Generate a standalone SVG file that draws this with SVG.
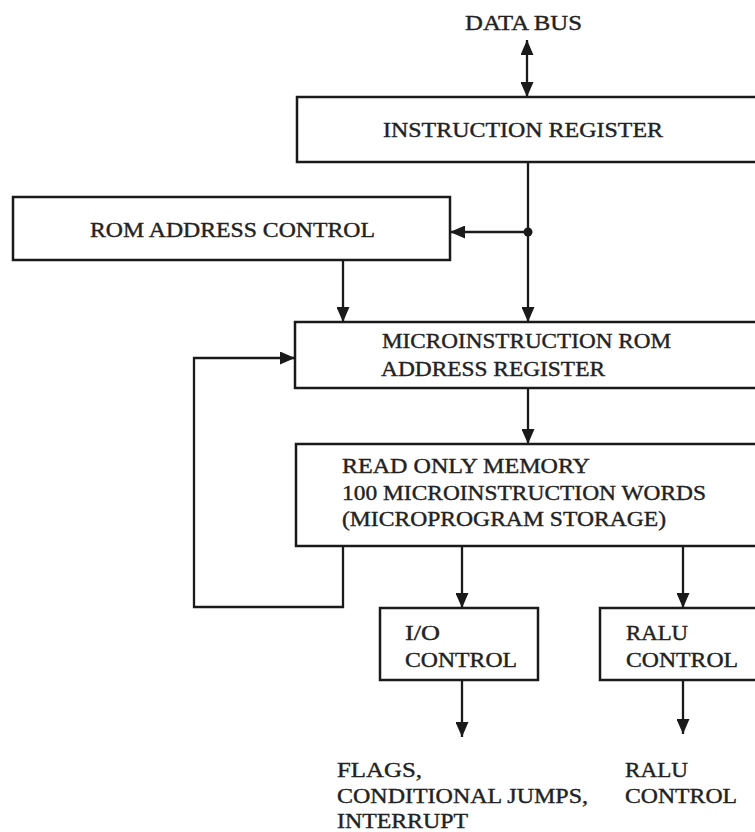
<svg xmlns="http://www.w3.org/2000/svg" width="755" height="832" viewBox="0 0 755 832">
<defs>
<style>
.box{fill:#fff;stroke:#1a1a1a;stroke-width:2.5}
.ln{fill:none;stroke:#1a1a1a;stroke-width:2.3}
text{font-family:"Liberation Serif","Times New Roman",serif;font-size:22px;fill:#222;stroke:#222;stroke-width:0.4}
</style>
<marker id="ah" viewBox="0 0 15 13" refX="15" refY="6.5" markerWidth="15" markerHeight="13" markerUnits="userSpaceOnUse" orient="auto-start-reverse">
<path d="M0,0 L15,6.5 L0,13 Z" fill="#1a1a1a"/>
</marker>
</defs>
<rect width="755" height="832" fill="#fff"/>
<g id="connectors">
<line class="ln" x1="527" y1="40" x2="527" y2="97" marker-start="url(#ah)" marker-end="url(#ah)"/>
<line class="ln" x1="528" y1="162" x2="528" y2="322" marker-end="url(#ah)"/>
<line class="ln" x1="528" y1="232" x2="450" y2="232" marker-end="url(#ah)"/>
<circle cx="528" cy="232" r="4.5" fill="#1a1a1a"/>
<line class="ln" x1="343" y1="260" x2="343" y2="322" marker-end="url(#ah)"/>
<line class="ln" x1="528" y1="388" x2="528" y2="444" marker-end="url(#ah)"/>
<polyline class="ln" points="343,546 343,607 194,607 194,358 295,358" marker-end="url(#ah)"/>
<line class="ln" x1="462" y1="546" x2="462" y2="608" marker-end="url(#ah)"/>
<line class="ln" x1="683" y1="546" x2="683" y2="608" marker-end="url(#ah)"/>
<line class="ln" x1="462" y1="680" x2="462" y2="737" marker-end="url(#ah)"/>
<line class="ln" x1="683" y1="680" x2="683" y2="734" marker-end="url(#ah)"/>
</g>
<g id="data-bus">
<text x="465" y="30" textLength="117" lengthAdjust="spacingAndGlyphs">DATA BUS</text>
</g>
<g id="instruction-register">
<rect class="box" x="297" y="97" width="480" height="65"/>
<text x="383" y="137" textLength="280" lengthAdjust="spacingAndGlyphs">INSTRUCTION REGISTER</text>
</g>
<g id="rom-address-control">
<rect class="box" x="13" y="197" width="437" height="63"/>
<text x="90" y="237" textLength="285" lengthAdjust="spacingAndGlyphs">ROM ADDRESS CONTROL</text>
</g>
<g id="microinstruction-rom-address-register">
<rect class="box" x="295" y="322" width="480" height="66"/>
<text x="382" y="348" textLength="289" lengthAdjust="spacingAndGlyphs">MICROINSTRUCTION ROM</text>
<text x="381" y="376" textLength="224" lengthAdjust="spacingAndGlyphs">ADDRESS REGISTER</text>
</g>
<g id="read-only-memory">
<rect class="box" x="296" y="444" width="480" height="102"/>
<text x="342" y="473" textLength="248" lengthAdjust="spacingAndGlyphs">READ ONLY MEMORY</text>
<text x="342" y="500" textLength="364" lengthAdjust="spacingAndGlyphs">100 MICROINSTRUCTION WORDS</text>
<text x="342" y="526" textLength="324" lengthAdjust="spacingAndGlyphs">(MICROPROGRAM STORAGE)</text>
</g>
<g id="io-control">
<rect class="box" x="380" y="608" width="158" height="72"/>
<text x="405" y="640" textLength="35" lengthAdjust="spacingAndGlyphs">I/O</text>
<text x="405" y="667" textLength="112" lengthAdjust="spacingAndGlyphs">CONTROL</text>
</g>
<g id="ralu-control">
<rect class="box" x="600" y="608" width="180" height="72"/>
<text x="626" y="640" textLength="62" lengthAdjust="spacingAndGlyphs">RALU</text>
<text x="626" y="667" textLength="112" lengthAdjust="spacingAndGlyphs">CONTROL</text>
</g>
<g id="io-outputs">
<text x="337" y="777" textLength="85" lengthAdjust="spacingAndGlyphs">FLAGS,</text>
<text x="337" y="803" textLength="251" lengthAdjust="spacingAndGlyphs">CONDITIONAL JUMPS,</text>
<text x="337" y="828" textLength="131" lengthAdjust="spacingAndGlyphs">INTERRUPT</text>
</g>
<g id="ralu-outputs">
<text x="625" y="777" textLength="63" lengthAdjust="spacingAndGlyphs">RALU</text>
<text x="625" y="803" textLength="112" lengthAdjust="spacingAndGlyphs">CONTROL</text>
</g>
</svg>
